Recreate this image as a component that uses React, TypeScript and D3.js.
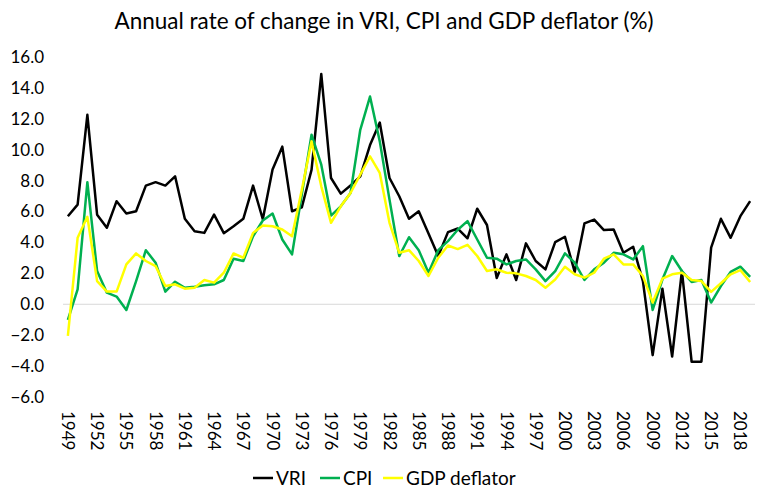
import React, { useEffect, useRef } from 'react';
import * as d3 from 'd3';

const years = d3.range(1949, 2020);

const vri = [
  5.7, 6.45, 12.26, 5.8, 4.95, 6.67, 5.87, 6.02, 7.68, 7.9,
  7.68, 8.28, 5.53, 4.73, 4.62, 5.8, 4.6, 5.05, 5.53, 7.68,
  5.5, 8.72, 10.2, 6.02, 6.27, 8.7, 14.9, 8.17, 7.16, 7.68,
  8.28, 10.3, 11.76, 8.17, 6.99, 5.53, 6.02, 4.58, 3.12, 4.67,
  4.9, 4.27, 6.18, 5.13, 1.7, 3.23, 1.57, 3.94, 2.8, 2.26,
  4.02, 4.37, 2.09, 5.23, 5.48, 4.8, 4.84, 3.33, 3.72, 1.5,
  -3.29, 1.01, -3.38, 2.15, -3.72, -3.72, 3.66, 5.53, 4.3, 5.7,
  6.67,
];

const cpi = [
  -1.01, 0.97, 7.9, 2.15, 0.75, 0.5, -0.37, 1.5, 3.5, 2.69,
  0.82, 1.46, 1.07, 1.13, 1.23, 1.29, 1.57, 2.95, 2.8, 4.4,
  5.42, 5.87, 4.19, 3.23, 7.1, 10.97, 9.03, 5.74, 6.34, 7.2,
  11.29, 13.44, 10.54, 6.77, 3.12, 4.34, 3.5, 2.04, 3.5, 4.09,
  4.82, 5.38, 4.19, 3.01, 2.95, 2.58, 2.8, 2.9, 2.26, 1.5,
  2.15, 3.29, 2.69, 1.57, 2.26, 2.69, 3.33, 3.23, 2.9, 3.76,
  -0.37, 1.6, 3.12, 2.15, 1.44, 1.57, 0.11, 1.18, 2.09, 2.43,
  1.78,
];

const gdpDeflator = [
  -2.04, 4.3, 5.66, 1.5, 0.82, 0.82, 2.58, 3.29, 2.8, 2.47,
  1.18, 1.29, 1.01, 1.07, 1.57, 1.4, 2.04, 3.29, 3.01, 4.62,
  5.1, 5.05, 4.84, 4.4, 7.4, 10.54, 7.63, 5.27, 6.34, 7.2,
  8.39, 9.57, 8.5, 5.27, 3.33, 3.5, 2.8, 1.83, 3.01, 3.8,
  3.57, 3.85, 3.12, 2.15, 2.26, 2.04, 2.0, 1.83, 1.57, 1.07,
  1.6, 2.43, 1.94, 1.72, 2.04, 2.95, 3.23, 2.58, 2.58, 1.83,
  0.11, 1.66, 1.94, 2.04, 1.57, 1.5, 0.8, 1.36, 1.94, 2.21,
  1.44,
];

const yTicks = d3.range(-6, 17, 2);
const xTickYears = d3.range(1949, 2019, 3);

const series = [
  { name: 'VRI', values: vri, color: '#000000' },
  { name: 'CPI', values: cpi, color: '#00b050' },
  { name: 'GDP deflator', values: gdpDeflator, color: '#ffff00' },
];

const FONT = 'Lato, "Open Sans", sans-serif';

const App = () => {
  const ref = useRef<SVGSVGElement | null>(null);

  useEffect(() => {
    if (!ref.current) return;
    const svg = d3.select(ref.current);
    svg.selectAll('*').remove();

    const width = 767;
    const height = 499;

    const x = d3.scaleBand<number>().domain(years).range([63, 755]);
    const cx = (yr: number) => (x(yr) as number) + x.bandwidth() / 2;
    const y = d3.scaleLinear().domain([-6, 16]).range([397, 57]);

    svg.append('rect').attr('width', width).attr('height', height).attr('fill', '#fff');

    // title
    svg.append('text')
      .attr('x', 384)
      .attr('y', 29)
      .attr('text-anchor', 'middle')
      .attr('font-family', FONT)
      .attr('font-size', 22.5)
      .attr('fill', '#000')
      .text('Annual rate of change in VRI, CPI and GDP deflator (%)');

    // y axis labels
    svg.append('g')
      .selectAll('text')
      .data(yTicks)
      .join('text')
      .attr('x', 44)
      .attr('y', (d) => y(d))
      .attr('dy', '0.35em')
      .attr('text-anchor', 'end')
      .attr('font-family', FONT)
      .attr('font-size', 17)
      .attr('fill', '#000')
      .text((d) => d3.format('.1f')(d));

    // zero line
    svg.append('line')
      .attr('x1', 63)
      .attr('x2', 755)
      .attr('y1', y(0))
      .attr('y2', y(0))
      .attr('stroke', '#d9d9d9')
      .attr('stroke-width', 1);

    // x labels, rotated
    svg.append('g')
      .selectAll('text')
      .data(xTickYears)
      .join('text')
      .attr('transform', (d) => `translate(${cx(d)},411) rotate(90)`)
      .attr('dy', '0.35em')
      .attr('text-anchor', 'start')
      .attr('font-family', FONT)
      .attr('font-size', 17)
      .attr('fill', '#000')
      .text((d) => String(d));

    // lines
    const line = d3.line<number>()
      .x((_, i) => cx(years[i]))
      .y((d) => y(d));

    svg.append('g')
      .selectAll('path')
      .data(series)
      .join('path')
      .attr('fill', 'none')
      .attr('stroke', (d) => d.color)
      .attr('stroke-width', 2.5)
      .attr('stroke-linejoin', 'round')
      .attr('d', (d) => line(d.values));

    // legend
    const legendX = [253, 320, 383];
    const lg = svg.append('g')
      .selectAll('g')
      .data(series)
      .join('g')
      .attr('transform', (_, i) => `translate(${legendX[i]},478)`);
    lg.append('line')
      .attr('x1', 0)
      .attr('x2', 20)
      .attr('stroke', (d) => d.color)
      .attr('stroke-width', 2.5);
    lg.append('text')
      .attr('x', 23)
      .attr('dy', '0.35em')
      .attr('font-family', FONT)
      .attr('font-size', 19)
      .attr('fill', '#000')
      .text((d) => d.name);
  }, []);

  return (
    <svg
      ref={ref}
      width={767}
      height={499}
      style={{ position: 'absolute', left: 0, top: 0 }}
    ></svg>
  );
};

export default App;
